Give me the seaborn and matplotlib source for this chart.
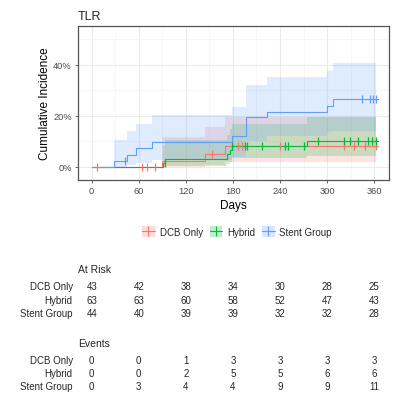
import numpy as np
import pandas as pd
import matplotlib
matplotlib.use("Agg")
import matplotlib.pyplot as plt
import seaborn as sns
from matplotlib.patches import Patch
from matplotlib.lines import Line2D
from matplotlib.legend_handler import HandlerTuple
from matplotlib.ticker import FuncFormatter, MultipleLocator

# ---------------- data ----------------
groups = ["DCB Only", "Hybrid", "Stent Group"]
end_day = 365

dcb_t = [0, 89, 145, 170]
dcb_inc = [0, 2.3, 4.9, 8.0]
dcb_lo = [0, 0, 0.5, 2.0]
dcb_hi = [0, 11.8, 15.7, 19.4]
dcb_cens = [7, 64, 71, 81, 153, 186, 191, 240, 322, 335, 349, 362]

hyb_t = [0, 91, 94, 173, 176, 179, 274]
hyb_inc = [0, 1.6, 3.2, 4.9, 6.6, 8.3, 10.2]
hyb_lo = [0, 0, 0.3, 1.0, 2.0, 3.5, 4.3]
hyb_hi = [0, 8.0, 10.5, 12.5, 14.8, 16.7, 19.4]
hyb_cens = [93, 179, 196, 198, 217, 246, 250, 271, 289, 322, 329, 339, 352, 357, 362]

stent_t = [0, 28, 45, 57, 77, 179, 197, 224, 300, 308]
stent_inc = [0, 2.4, 4.8, 7.2, 9.6, 12.0, 19.4, 21.5, 24.0, 26.4]
stent_lo = [0, 0, 0.5, 1.5, 2.5, 4.0, 10.0, 12.2, 13.5, 14.1]
stent_hi = [0, 10.5, 14.1, 16.7, 20.3, 23.5, 32.2, 35.3, 37.6, 40.5]
stent_cens = [42, 344, 355, 358, 362]

risk_times = [0, 60, 120, 180, 240, 300, 360]
at_risk_dcb = [43, 42, 38, 34, 30, 28, 25]
at_risk_hyb = [63, 63, 60, 58, 52, 47, 43]
at_risk_stent = [44, 40, 39, 39, 32, 32, 28]
events_dcb = [0, 0, 1, 3, 3, 3, 3]
events_hyb = [0, 0, 2, 5, 5, 6, 6]
events_stent = [0, 3, 4, 4, 9, 9, 11]

x_ticks = [0, 60, 120, 180, 240, 300, 360]
y_ticks = [0, 20, 40]

colors = ["#F8766D", "#00BA38", "#619CFF"]

series = {
    "DCB Only": (dcb_t, dcb_inc, dcb_lo, dcb_hi, dcb_cens),
    "Hybrid": (hyb_t, hyb_inc, hyb_lo, hyb_hi, hyb_cens),
    "Stent Group": (stent_t, stent_inc, stent_lo, stent_hi, stent_cens),
}

# ---------------- style ----------------
sns.set_theme(style="whitegrid")
plt.rcParams["font.family"] = ["Liberation Sans", "DejaVu Sans"]

fig = plt.figure(figsize=(4.0, 4.02), dpi=100)
W, H = 400, 402
ax = fig.add_axes([78 / W, 1 - 181 / H, (389 - 78) / W, (181 - 27) / H])

# bands
for g, c in zip(groups, colors):
    t, inc, lo, hi, cens = series[g]
    tt = list(t) + [end_day - 2]
    ax.fill_between(tt, list(lo) + [lo[-1]], list(hi) + [hi[-1]], step="post",
                    color=c, alpha=0.2, lw=0, zorder=1)

# lines via seaborn
rows = []
for g in groups:
    t, inc, lo, hi, cens = series[g]
    for ti, vi in zip(list(t) + [end_day], list(inc) + [inc[-1]]):
        rows.append({"day": ti, "inc": vi, "group": g})
df = pd.DataFrame(rows)
sns.lineplot(data=df, x="day", y="inc", hue="group", palette=colors,
             hue_order=groups, estimator=None, drawstyle="steps-post",
             lw=0.8, legend=False, ax=ax, zorder=3)

# censor marks
for g, c in zip(groups, colors):
    t, inc, lo, hi, cens = series[g]
    idx = np.searchsorted(np.array(t), np.array(cens), side="right") - 1
    yv = np.array(inc)[idx]
    ax.plot(cens, yv, linestyle="none", marker="|", color=c, markersize=5.5,
            mew=0.9, zorder=4)

ax.set_xlim(-17.5, 379)
ax.set_ylim(-5.2, 55.2)
ax.set_xticks(x_ticks)
ax.set_yticks(y_ticks)
ax.xaxis.set_minor_locator(MultipleLocator(30))
ax.yaxis.set_minor_locator(MultipleLocator(10))
ax.yaxis.set_major_formatter(FuncFormatter(lambda v, p: f"{v:.0f}%"))
ax.grid(which="major", color="#EBEBEB", lw=0.8)
ax.grid(which="minor", color="#F3F3F3", lw=0.5)
ax.set_facecolor("white")
for s in ax.spines.values():
    s.set_color("#555555")
    s.set_linewidth(0.9)
ax.tick_params(axis="both", which="major", labelsize=6.7, colors="#4D4D4D",
               length=2.5, width=0.6, pad=2, bottom=True, left=True)
ax.tick_params(axis="both", which="minor", length=0)
ax.set_xlabel("Days", fontsize=8.5, color="black", labelpad=3)
ax.set_ylabel("Cumulative Incidence", fontsize=8.5, color="black", labelpad=1.5)
ax.set_title("TLR", loc="left", fontsize=9, pad=5)

# legend
handles = [(Patch(facecolor=c, alpha=0.25, edgecolor="none"),
            Line2D([], [], color=c, lw=0.8, marker="|", markersize=7, mew=0.8))
           for c in colors]
fig.legend(handles, groups, handler_map={tuple: HandlerTuple(ndivide=1)},
           loc="center", bbox_to_anchor=(237 / W, 1 - 232.7 / H), ncol=3,
           frameon=False, fontsize=7, handlelength=1.3, handleheight=1.3,
           columnspacing=0.7, handletextpad=0.5)

# tables
ax2 = fig.add_axes([78 / W, 0, (389 - 78) / W, 152 / H])
ax2.set_xlim(ax.get_xlim())
ax2.set_ylim(H, H - 152)
ax2.axis("off")

label_x = (72.7 - 91.7) / 0.784
ax2.text(-17.5, 270, "At Risk", fontsize=7.5, ha="left", va="center")
ax2.text(-17.5, 344, "Events", fontsize=7.5, ha="left", va="center")
tables = [
    (287.3, [at_risk_dcb, at_risk_hyb, at_risk_stent]),
    (360.7, [events_dcb, events_hyb, events_stent]),
]
for y0, vals in tables:
    for k, (g, v) in enumerate(zip(groups, vals)):
        yy = y0 + k * 13.4
        ax2.text(label_x, yy, g, fontsize=7, ha="right", va="center", clip_on=False)
        for tx, n in zip(risk_times, v):
            ax2.text(tx, yy, str(n), fontsize=7, ha="center", va="center")

fig.savefig("out.png", dpi=100)
